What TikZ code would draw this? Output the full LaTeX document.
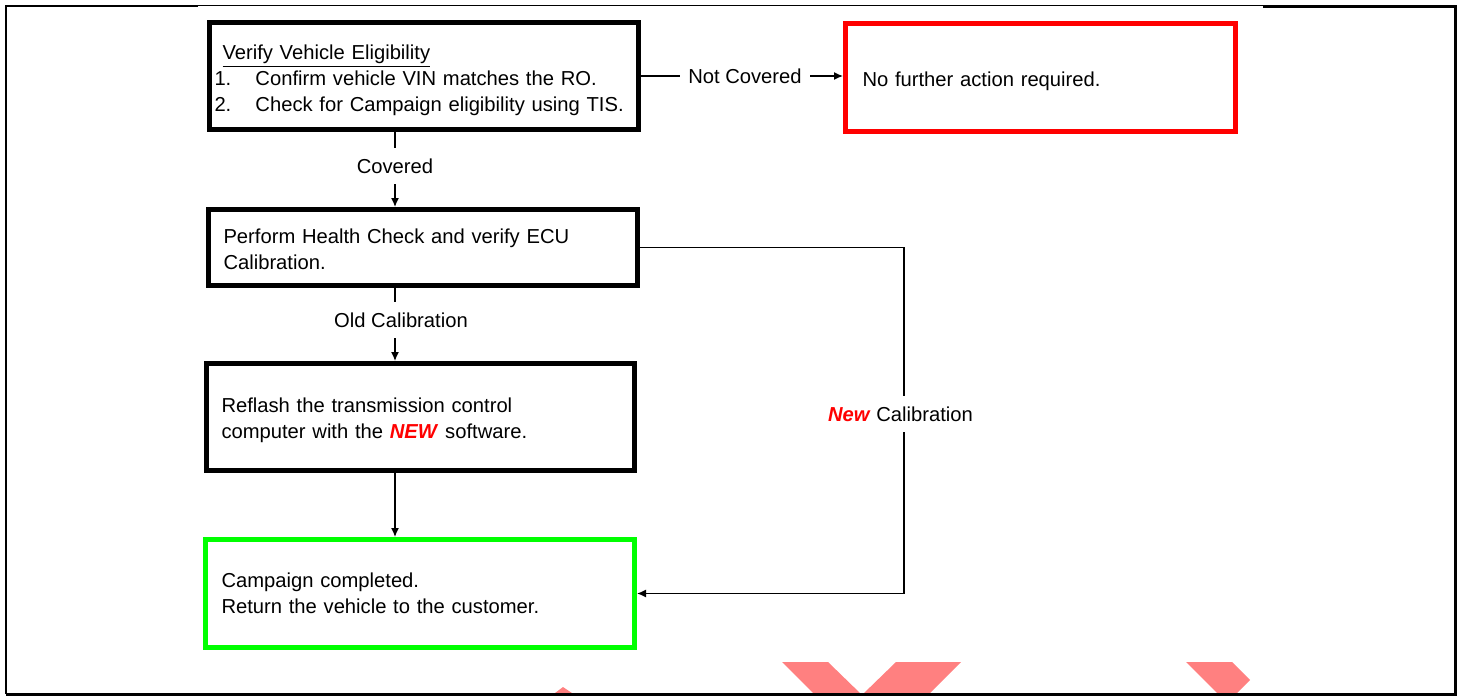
\documentclass[tikz,border=0pt]{standalone}
\usepackage{fontspec}
\setmainfont{Liberation Sans}
\usetikzlibrary{arrows.meta}
\definecolor{boxred}{RGB}{255,0,0}
\definecolor{boxgreen}{RGB}{0,255,0}
\definecolor{wmark}{RGB}{255,128,128}

\begin{document}
\begin{tikzpicture}[x=0.5pt, y=-0.5pt, line width=0.7pt,
	stepbox/.style={draw, rectangle, line width=2.5pt, align=left, font=\fontsize{10.1}{13}\selectfont},
	lbl/.style={font=\fontsize{10.1}{13}\selectfont, inner xsep=4pt, inner ysep=5pt},
	arr/.style={-{Latex[length=4.5pt,width=4pt]}}]

	\useasboundingbox (0,0) rectangle (1463,696);

		\fill[wmark] (555,693) -- (563,687) -- (572,693) -- cycle; % watermark
		\fill[wmark] (782,662) -- (828,662) -- (862,695) -- (896,662) -- (961,662) -- (930,693) -- (813,693) -- cycle;
		\fill[wmark] (1186,662) -- (1232,662) -- (1250,680) -- (1237,693) -- (1217,693) -- cycle;

		\draw[line width=1pt] (198,6) -- (6,6) -- (6,694); % frame
		\draw[line width=1.5pt] (6,694.5) -- (1455.5,694.5) -- (1455.5,6) -- (1263,6);
		\draw[line width=0.5pt] (198,5) -- (1263,5);

		\node[stepbox, minimum width=214.5pt, minimum height=53.5pt, inner xsep=2.5pt, text width=209.5pt] (verify) at (424,76)
			{\rule{0pt}{11.5pt}\hspace*{4pt}\underline{Verify Vehicle Eligibility}\\
			 \makebox[20.5pt][l]{1.}Confirm vehicle VIN matches the RO.\\
			 \makebox[20.5pt][l]{2.}Check for Campaign eligibility using TIS.};
		\node[stepbox, draw=boxred, minimum width=195pt, minimum height=54pt, inner xsep=8.5pt, text width=178pt] (nofurther) at (1040.5,77.5)
			{\rule{0pt}{11.5pt}No further action required.};
		\node[stepbox, minimum width=214.5pt, minimum height=38pt, inner xsep=7.5pt, text width=199.5pt] (health) at (423,247.5)
			{\rule{0pt}{9.5pt}Perform Health Check and verify ECU\\Calibration.};
		\node[stepbox, minimum width=214pt, minimum height=53.5pt, inner xsep=7.5pt, text width=199pt] (reflash) at (420.5,417)
			{\rule{0pt}{10.5pt}Reflash the transmission control\\computer with the \textcolor{boxred}{\textbf{\textit{NEW}}} software.};
		\node[stepbox, draw=boxgreen, minimum width=214.5pt, minimum height=54pt, inner xsep=8pt, text width=198.5pt] (done) at (420,593.5)
			{Campaign completed.\\Return the vehicle to the customer.};

		\node[lbl] (notcov) at (745,76) {Not Covered};
		\node[lbl] (covered) at (395,166) {Covered};
		\node[lbl] (oldcal) at (401,320) {Old Calibration};
		\node[lbl] (newcal) at (900.5,414) {\textcolor{boxred}{\textbf{\textit{New}}} Calibration};

		\coordinate (trunk) at (395,0);
		\coordinate (rtrunk) at (904,0);

		\draw (verify.east) -- (notcov);
		\draw[arr] (notcov.east) -- (notcov.east -| nofurther.west);
		\draw (verify.south -| trunk) -- (covered);
		\draw[arr] (covered) -- (health.north -| trunk);
		\draw (health.south -| trunk) -- (trunk |- oldcal.north);
		\draw[arr] (trunk |- oldcal.south) -- (reflash.north -| trunk);
		\draw[arr] (reflash.south -| trunk) -- (done.north -| trunk);
		\draw (health.east) -| (rtrunk |- newcal.north);
		\draw[arr] (rtrunk |- newcal.south) |- (done.east);
	\end{tikzpicture}
\end{document}
